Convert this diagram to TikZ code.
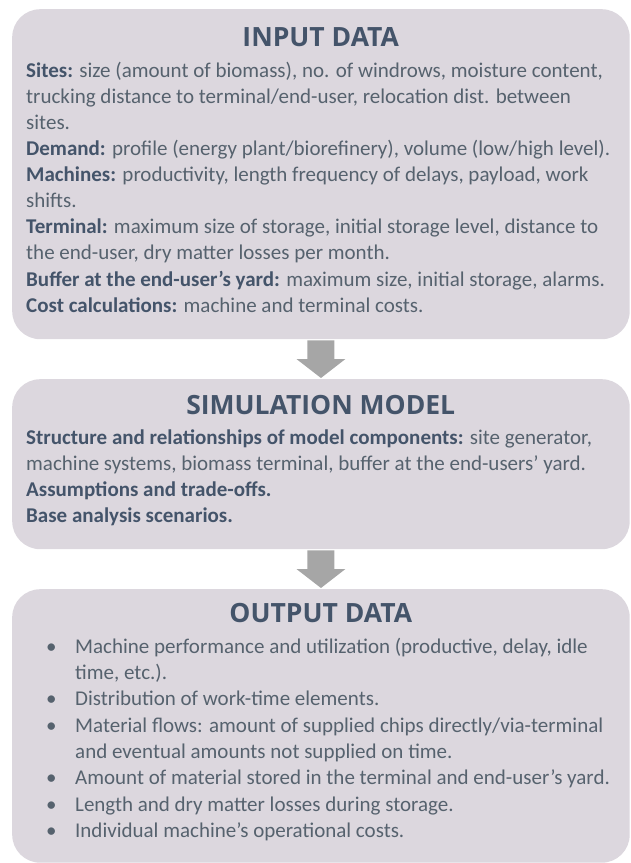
\documentclass[tikz,border=0pt]{standalone}
\usepackage{fontspec}
\setmainfont{Carlito}
\newfontfamily\headfont{Open Sans}
\usetikzlibrary{calc}
\definecolor{boxfill}{HTML}{DCD7DE}
\definecolor{headcol}{HTML}{44546A}
\definecolor{bodycol}{HTML}{56626E}
\definecolor{arrowcol}{HTML}{A6A6A6}
\tikzset{
  panel/.style={fill=boxfill, draw=none, rounded corners=28pt, inner sep=0pt,
    minimum width=617.5pt, anchor=north west},
  heading/.style={font=\headfont\bfseries\fontsize{26.5}{30}\selectfont, text=headcol, inner sep=0pt},
  bodytext/.style={font=\fontsize{21}{26.1}\selectfont, text=bodycol, inner sep=0pt,
    align=left, anchor=north west},
}
\newcommand{\lbl}[1]{\textbf{\color{headcol}#1}}
\newcommand{\firstline}{\rule{0pt}{18pt}}
\newcommand{\bul}{\makebox[30pt][l]{\hspace*{1pt}•}}
% block arrow from the bottom of one panel to the top of the next
\newcommand{\flowarrow}[2]{%
  \fill[arrowcol] ($(#1.south)+(-13.5,1)$) -- ($(#2.north)+(-13.5,-20)$)
    -- ($(#2.north)+(-24.5,-20)$) -- ($(#2.north)+(0,-1)$)
    -- ($(#2.north)+(24.5,-20)$) -- ($(#2.north)+(13.5,-20)$)
    -- ($(#1.south)+(13.5,1)$) -- cycle;}
\begin{document}
\begin{tikzpicture}[x=1pt,y=-1pt]
\useasboundingbox (0,0) rectangle (630,863);

\node[panel, minimum height=330pt] (input) at (12,9) {};
\node[panel, minimum height=170pt] (model) at (12,379) {};
\node[panel, minimum height=273.5pt] (output) at (12,589) {};

\flowarrow{input}{model}
\flowarrow{model}{output}

\node[heading] (inputhead) at (320.75,37) {INPUT DATA};
\node[bodytext] (inputbody) at (26,59) {\firstline\lbl{Sites:} size (amount of biomass), no. of windrows, moisture content,\\
trucking distance to terminal/end-user, relocation dist. between\\
sites.\\
\lbl{Demand:} profile (energy plant/biorefinery), volume (low/high level).\\
\lbl{Machines:} productivity, length frequency of delays, payload, work\\
shifts.\\
\lbl{Terminal:} maximum size of storage, initial storage level, distance to\\
the end-user, dry matter losses per month.\\
\lbl{Buffer at the end-user’s yard:} maximum size, initial storage, alarms.\\
\lbl{Cost calculations:} machine and terminal costs.};

\node[heading] (modelhead) at (320.75,405) {SIMULATION MODEL};
\node[bodytext, font=\fontsize{21}{26}\selectfont] (modelbody) at (26,426) {\firstline\lbl{Structure and relationships of model components:} site generator,\\
machine systems, biomass terminal, buffer at the end-users’ yard.\\
\lbl{Assumptions and trade-offs.}\\
\lbl{Base analysis scenarios.}};

\node[heading] (outputhead) at (320.75,613) {OUTPUT DATA};
\node[bodytext, font=\fontsize{21}{26.3}\selectfont] (outputbody) at (45,635) {\firstline\bul Machine performance and utilization (productive, delay, idle\\
\hspace*{30pt}time, etc.).\\
\bul Distribution of work-time elements.\\
\bul Material flows: amount of supplied chips directly/via-terminal\\
\hspace*{30pt}and eventual amounts not supplied on time.\\
\bul Amount of material stored in the terminal and end-user’s yard.\\
\bul Length and dry matter losses during storage.\\
\bul Individual machine’s operational costs.};
\end{tikzpicture}
\end{document}
